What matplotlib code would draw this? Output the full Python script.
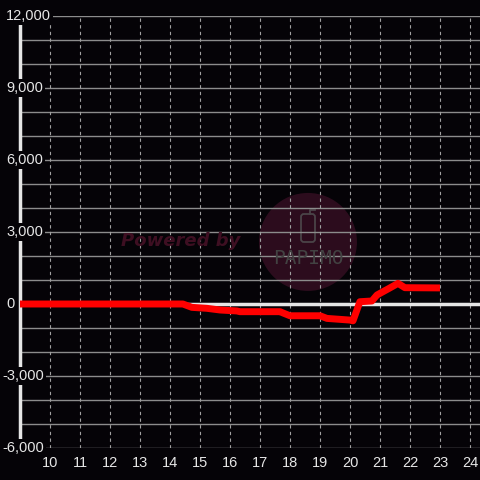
import matplotlib.pyplot as plt
from matplotlib.patches import Ellipse, FancyBboxPatch

# data (hour of day vs. value)
hours = [9.0, 14.43, 14.73, 15.23, 15.67, 16.23, 16.33, 17.67, 17.77, 18.0, 19.0,
         19.23, 20.0, 20.1, 20.33, 20.73, 20.9, 21.33, 21.6, 21.83, 23.0]
values = [0, 0, -140, -180, -250, -290, -320, -320, -375, -490, -490,
          -600, -670, -700, 95, 125, 375, 670, 860, 680, 670]

x_ticks = list(range(10, 25))
y_ticks = [-6000, -3000, 0, 3000, 6000, 9000, 12000]
y_grid = list(range(-6000, 12001, 1000))

bg = "#050307"
fg = "#e6e6e6"

fig = plt.figure(figsize=(4.8, 4.8), dpi=100, facecolor=bg)
ax = fig.add_axes([20 / 480, 32 / 480, 460 / 480, 432 / 480], facecolor=bg)
ax.set_xlim(9, 9 + 460 / 30)
ax.set_ylim(-6000, 12000)

# watermark behind the grid
ax.add_patch(Ellipse((0.626, 0.477), 98 / 460, 98 / 432, transform=ax.transAxes,
                     color="#2c0c1d", zorder=0.2, lw=0))
ax.add_patch(FancyBboxPatch((301 / 480, 1 - 242 / 480), 14 / 480, 28 / 480,
                            boxstyle="round,pad=0,rounding_size=0.006",
                            transform=fig.transFigure, fill=False,
                            ec="#4a4448", lw=1.3, zorder=0.3))
ax.plot([310 / 480, 310 / 480, 315 / 480], [1 - 214 / 480, 1 - 210 / 480, 1 - 210 / 480],
        transform=fig.transFigure, color="#4a4448", lw=1.3, zorder=0.3)
fig.text(308 / 480, 1 - 259 / 480, "PAPIMO", color="#424242", fontsize=14,
         family="DejaVu Sans Mono", ha="center", va="center", zorder=0.3)
fig.text(181 / 480, 1 - 241 / 480, "Powered by", color="#3e0f22", fontsize=13,
         fontweight="bold", fontstyle="italic", ha="center", va="center",
         family="DejaVu Sans")

for y in y_grid:
    ax.axhline(y, color="#8c8c8c", lw=1, zorder=1)
for x in x_ticks:
    ax.axvline(x, color="#a0a0a0", lw=0.8, ls=(0, (3, 3)), zorder=1)
ax.axhline(0, color=fg, lw=2.5, zorder=2)

ax.plot(hours, values, color="#ff0000", lw=5, solid_joinstyle="round",
        solid_capstyle="butt", zorder=3)

for s in ["top", "right", "bottom"]:
    ax.spines[s].set_visible(False)
ax.spines["left"].set_color(fg)
ax.spines["left"].set_linewidth(2.5)
ax.spines["left"].set_zorder(2.5)

ax.set_xticks(x_ticks)
ax.set_xticklabels([str(x) for x in x_ticks], family="Liberation Sans", fontsize=10.5)
ax.tick_params(axis="x", length=0, pad=6, colors=fg)
ax.set_yticks([])

for y in y_ticks:
    px = 2 if y < 0 else 6
    ax.text((px - 20) / 460, y, f"{y:,}", transform=ax.get_yaxis_transform(),
            ha="left", va="center", color=fg, fontsize=10.5, family="Liberation Sans",
            bbox=dict(facecolor=bg, edgecolor="none", pad=1.5), zorder=5, clip_on=False)

fig.savefig("out.png", dpi=100, facecolor=bg)
